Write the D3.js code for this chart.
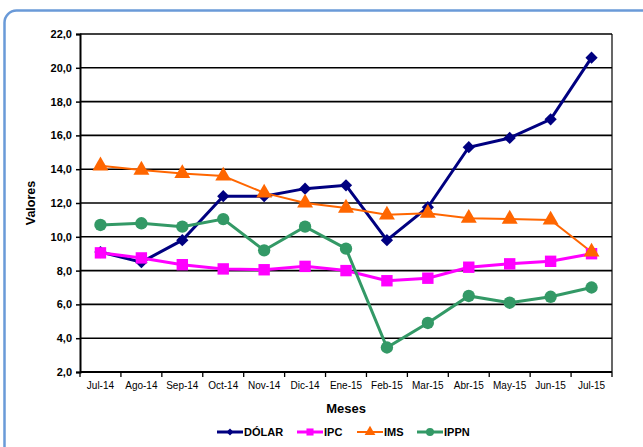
<!DOCTYPE html>
<html>
<head>
<meta charset="utf-8">
<script src="https://cdn.jsdelivr.net/npm/d3@7.9.0/dist/d3.min.js"></script>
<style>
  body { margin: 0; background: #fff; }
  text { font-family: "Liberation Sans", Arial, sans-serif; }
</style>
</head>
<body>
<svg id="chart" width="643" height="447"></svg>
<script>
// data
const meses = ['Jul-14','Ago-14','Sep-14','Oct-14','Nov-14','Dic-14','Ene-15','Feb-15','Mar-15','Abr-15','May-15','Jun-15','Jul-15'];
const dolar = [9.1, 8.5, 9.8, 12.4, 12.4, 12.85, 13.05, 9.8, 11.75, 15.3, 15.85, 16.95, 20.6];
const ipc   = [9.05, 8.75, 8.35, 8.1, 8.05, 8.25, 8.0, 7.4, 7.55, 8.2, 8.4, 8.55, 9.0];
const ims   = [14.2, 13.95, 13.75, 13.6, 12.6, 12.0, 11.7, 11.3, 11.4, 11.1, 11.05, 11.0, 9.1];
const ippn  = [10.7, 10.8, 10.6, 11.05, 9.2, 10.6, 9.3, 3.45, 4.9, 6.5, 6.1, 6.45, 7.0];
const yTicks = [2, 4, 6, 8, 10, 12, 14, 16, 18, 20, 22];

const series = [
  { name: 'DÓLAR', values: dolar, color: '#000080', width: 3, shape: 'diamond' },
  { name: 'IPC', values: ipc, color: '#ff00ff', width: 3, shape: 'square' },
  { name: 'IMS', values: ims, color: '#ff6600', width: 2, shape: 'triangle' },
  { name: 'IPPN', values: ippn, color: '#339966', width: 3, shape: 'circle' }
];

const svg = d3.select('#chart');

// outer frame
svg.append('rect')
  .attr('x', 4.5).attr('y', 10.5).attr('width', 660).attr('height', 460)
  .attr('rx', 12).attr('fill', '#fff')
  .attr('stroke', '#6a9ad8').attr('stroke-width', 2.5);

const plotLeft = 80, plotRight = 612, plotTop = 34, plotBottom = 372;

let x = d3.scaleBand().domain(meses).range([plotLeft, plotRight]);
let y = d3.scaleLinear().domain([2, 22]).range([plotBottom, plotTop]);

// grid lines
svg.append('g').selectAll('line')
  .data(yTicks.slice(1))
  .join('line')
  .attr('x1', plotLeft).attr('x2', plotRight)
  .attr('y1', (d) => y(d)).attr('y2', (d) => y(d))
  .attr('stroke', '#000').attr('stroke-width', 1.6);

// right border of the plot
svg.append('line')
  .attr('x1', plotRight).attr('x2', plotRight).attr('y1', plotTop).attr('y2', plotBottom)
  .attr('stroke', '#000').attr('stroke-width', 1.2);

// y axis
let yAxis = svg.append('g')
  .attr('transform', `translate(${plotLeft},0)`)
  .call(d3.axisLeft(y).tickValues(yTicks).tickSize(4).tickPadding(4)
    .tickFormat((d) => d3.format('.1f')(d).replace('.', ',')));
yAxis.select('.domain').attr('stroke-width', 2);
yAxis.selectAll('.tick line').attr('stroke-width', 1.5);
yAxis.selectAll('text').attr('font-size', 11).attr('font-weight', 'bold');

// x axis: ticks on band edges
let xAxisG = svg.append('g').attr('transform', `translate(0,${plotBottom})`);
xAxisG.append('line').attr('x1', plotLeft).attr('x2', plotRight)
  .attr('stroke', '#000').attr('stroke-width', 2);
let edges = meses.map((m) => x(m)).concat([plotRight]);
xAxisG.selectAll('line.tk')
  .data(edges)
  .join('line')
  .attr('class', 'tk')
  .attr('x1', (d) => d).attr('x2', (d) => d)
  .attr('y1', 0).attr('y2', 5)
  .attr('stroke', '#000').attr('stroke-width', 1.3);
xAxisG.selectAll('text')
  .data(meses)
  .join('text')
  .attr('x', (d) => x(d) + x.bandwidth() / 2)
  .attr('y', 17)
  .attr('text-anchor', 'middle')
  .attr('font-size', 10)
  .attr('fill', '#000')
  .text((d) => d);

// axis titles
svg.append('text')
  .attr('x', 346).attr('y', 413)
  .attr('text-anchor', 'middle')
  .attr('font-size', 13).attr('font-weight', 'bold')
  .text('Meses');
svg.append('text')
  .attr('transform', `translate(35,${(plotTop + plotBottom) / 2}) rotate(-90)`)
  .attr('text-anchor', 'middle')
  .attr('font-size', 12.5).attr('font-weight', 'bold')
  .text('Valores');

// markers
const symbolFor = {
  diamond: d3.symbol().type(d3.symbolSquare).size(75),
  square: d3.symbol().type(d3.symbolSquare).size(130),
  triangle: d3.symbol().type(d3.symbolTriangle).size(110),
  circle: d3.symbol().type(d3.symbolCircle).size(120)
};

let line = d3.line()
  .x((d, i) => x(meses[i]) + x.bandwidth() / 2)
  .y((d) => y(d));

series.forEach((s) => {
  svg.append('path')
    .attr('d', line(s.values))
    .attr('fill', 'none')
    .attr('stroke', s.color)
    .attr('stroke-width', s.width);
});

series.forEach((s) => {
  svg.append('g').selectAll('path')
    .data(s.values)
    .join('path')
    .attr('d', symbolFor[s.shape])
    .attr('fill', s.color)
    .attr('transform', (d, i) => {
      let cx = x(meses[i]) + x.bandwidth() / 2;
      let rot = s.shape === 'diamond' ? ' rotate(45)' : '';
      return `translate(${cx},${y(d)})${rot}`;
    });
});

// legend
const legendX = [217, 297, 357, 417];
let legend = svg.append('g');
series.forEach((s, i) => {
  let g = legend.append('g').attr('transform', `translate(${legendX[i]},432)`);
  g.append('line').attr('x1', 0).attr('x2', 26)
    .attr('stroke', s.color).attr('stroke-width', s.width);
  let sym = d3.symbol().type(
    s.shape === 'circle' ? d3.symbolCircle :
    s.shape === 'triangle' ? d3.symbolTriangle : d3.symbolSquare
  ).size(s.shape === 'diamond' ? 24 : 50);
  g.append('path').attr('d', sym)
    .attr('fill', s.color)
    .attr('transform', `translate(13,0)${s.shape === 'diamond' ? ' rotate(45)' : ''}`);
  g.append('text')
    .attr('x', 27).attr('y', 4)
    .attr('font-size', 11).attr('font-weight', 'bold')
    .text(s.name);
});
</script>
</body>
</html>
